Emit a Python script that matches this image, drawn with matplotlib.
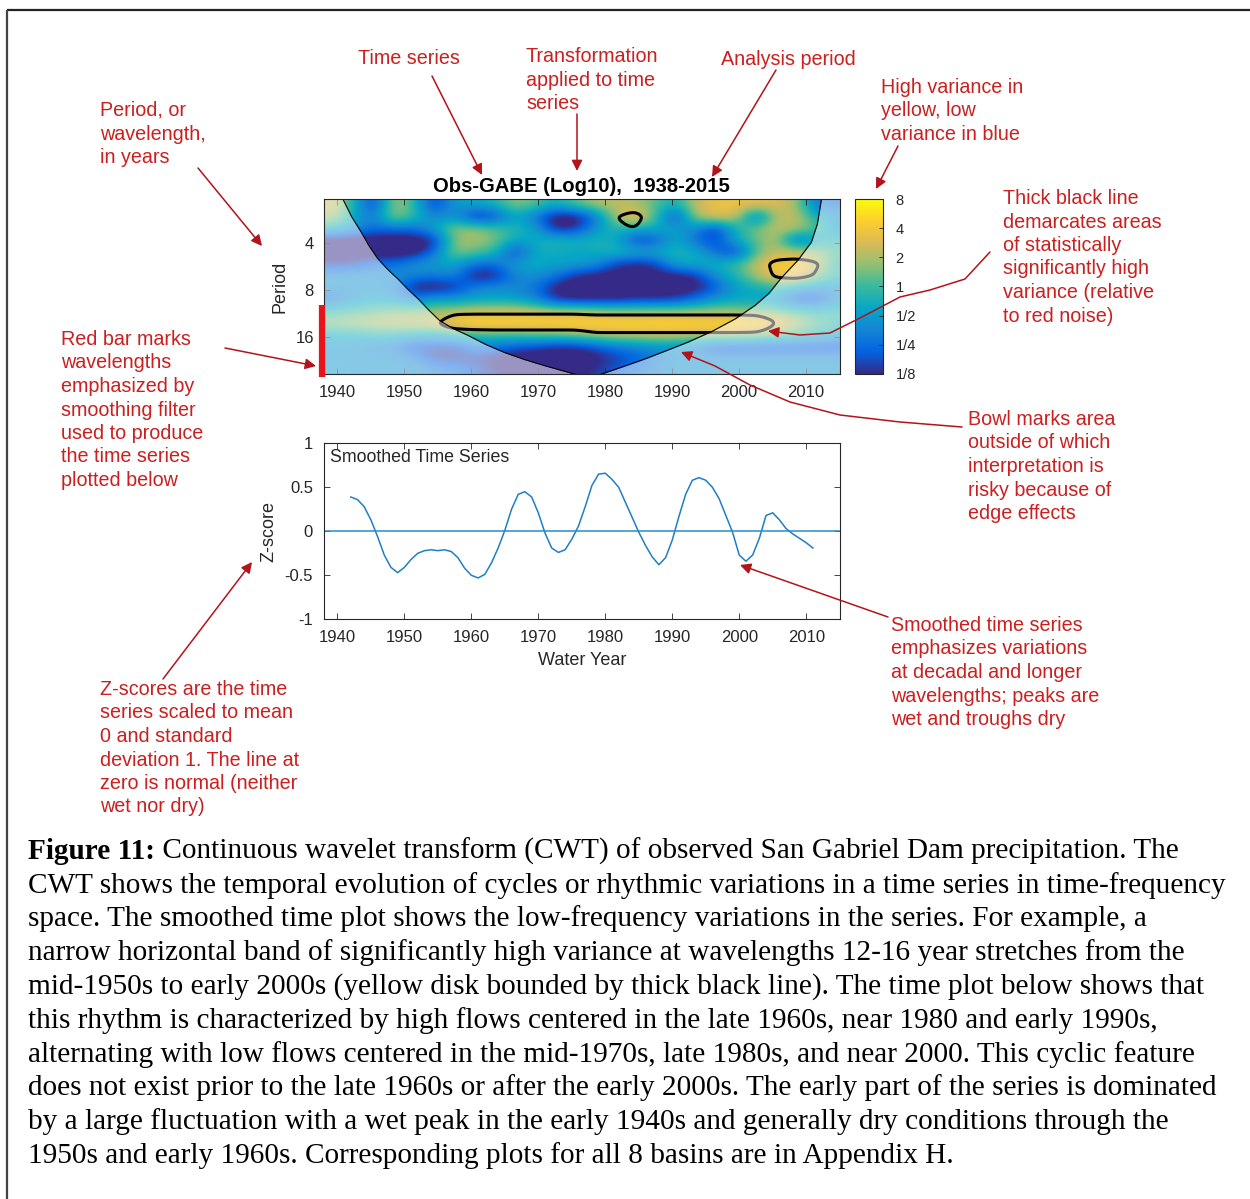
import numpy as np
import matplotlib
matplotlib.use("Agg")
import matplotlib.pyplot as plt
from matplotlib.colors import LinearSegmentedColormap
from matplotlib.patches import FancyArrowPatch
from matplotlib.path import Path

plt.rcParams['font.family'] = ['Liberation Sans', 'DejaVu Sans']
plt.rcParams['axes.unicode_minus'] = False

# ---------------- data ----------------
title = "Obs-GABE (Log10),  1938-2015"
cwt_years = [1939.5, 1942.5, 1945.5, 1948.5, 1951.5, 1954.5, 1957.5, 1960.5, 1963.5,
             1966.5, 1969.5, 1972.5, 1975.5, 1978.5, 1981.5, 1984.5, 1987.5, 1990.5,
             1993.5, 1996.5, 1999.5, 2002.5, 2005.5, 2008.5, 2011.5, 2014.5]
cwt_log2_period = [1.2, 1.45, 1.7, 1.95, 2.2, 2.45, 2.7, 2.95, 3.2, 3.45, 3.7, 3.95, 4.2, 4.45, 4.7]

# log2 of wavelet power (colour scale 1/8 .. 8)
power_log2 = [
 [ 1.5,-0.4,-3.0, 1.2,-0.2,-3.0,-0.8,-0.8,-0.4, 0.8, 0.3,-0.6, 0.3, 1.0, 1.2, 1.0, 0.3,-0.6, 1.3, 1.8, 1.9, 1.8, 1.6, 1.0,-2.0,-2.0],
 [ 1.0,-0.8,-1.8, 1.0,-0.2,-1.5,-1.2,-3.2,-2.8,-0.8,-1.8,-3.5,-3.5,-2.0, 1.0, 2.4, 0.0,-3.0, 1.2, 1.8, 1.5,-2.5, 1.3, 1.2,-0.5,-1.0],
 [-0.3,-1.2,-2.0,-2.0,-2.0,-0.8, 0.8, 0.8, 0.3,-0.2,-0.8,-3.2,-3.0,-1.2,-0.2,-0.6,-0.6,-0.8,-1.5,-3.0,-0.4, 0.6, 1.3, 1.2, 0.3,-1.5],
 [-3.5,-3.5,-3.5,-3.5,-3.5,-3.2, 0.8, 1.0, 0.6,-0.8,-0.6,-0.2,-0.4,-0.4,-0.6,-2.8,-2.5,-0.6,-2.0,-2.8,-0.6, 0.3, 1.2,-2.5,-0.8,-0.3],
 [-3.5,-3.2,-3.5,-3.5,-3.5,-2.0, 0.8, 0.3,-0.2,-3.0,-0.6,-0.6,-0.8,-0.6,-0.2,-0.4,-0.6,-0.2,-0.6,-2.0,-3.0, 0.3, 1.3, 1.5, 1.0, 0.0],
 [-2.8,-2.8,-2.0,-2.0,-1.2,-0.8,-0.8,-2.0,-2.0,-0.8,-0.6,-0.8,-0.8,-1.2,-2.8,-3.3,-2.8,-0.8,-0.6,-0.4, 0.0, 1.3, 2.2, 2.2, 1.2,-0.3],
 [-1.2,-1.2,-1.2,-1.2,-1.5,-1.8,-1.5,-3.3,-3.3,-1.5,-1.2,-1.8,-3.0,-3.3,-3.3,-3.0,-3.3,-3.3,-3.0,-1.2,-0.4, 1.0, 2.0, 2.0, 0.8,-0.3],
 [-1.2,-1.2,-1.2,-1.5,-3.3,-3.5,-3.0,-1.6,-1.2,-1.5,-1.8,-3.3,-3.5,-3.5,-3.5,-3.5,-3.5,-3.5,-3.3,-2.5,-0.8,-0.6, 0.0,-0.8,-1.2,-1.2],
 [-2.2,-1.2,-1.0,-1.0,-1.8,-0.8,-1.0,-0.8,-0.8,-0.8,-1.5,-3.0,-3.3,-3.3,-3.3,-3.0,-3.0,-2.8,-2.0,-1.0,-0.8,-0.8,-1.2,-2.8,-2.8,-1.2],
 [-0.2, 0.0, 0.3, 0.6, 0.6, 0.8, 1.0, 1.4, 1.4, 1.4, 1.3, 1.2, 1.2, 1.0, 0.8, 0.8, 0.8, 0.8, 0.8, 0.8, 0.8, 0.6, 0.4, 0.0,-0.3,-0.3],
 [ 0.8, 1.0, 1.2, 1.3, 1.4, 1.6, 2.4, 2.6, 2.6, 2.6, 2.6, 2.6, 2.6, 2.6, 2.6, 2.6, 2.6, 2.6, 2.5, 2.5, 2.5, 2.4, 2.1, 1.2, 0.3,-0.2],
 [-0.8,-0.8,-0.4,-0.4,-0.6,-0.8,-0.3, 0.0, 0.0, 0.0, 0.3, 0.3, 0.6, 1.0, 1.2, 1.2, 1.3, 1.3, 1.3, 1.3, 1.2, 1.0, 0.6, 0.0,-0.3,-0.8],
 [-1.2,-1.2,-1.5,-1.8,-2.8,-2.8,-2.8,-1.8,-1.8,-2.3,-2.6,-3.0,-3.0,-2.5,-1.8,-1.5,-1.2,-1.2,-1.8,-2.8,-2.8,-2.8,-2.8,-2.8,-2.8,-2.8],
 [-1.2,-1.2,-1.2,-1.2,-1.5,-2.8,-2.8,-2.8,-3.2,-3.5,-3.5,-3.5,-3.5,-3.2,-2.8,-2.3,-1.8,-1.2,-1.2,-1.2,-1.2,-1.2,-1.2,-1.2,-1.2,-1.2],
 [-1.0,-1.2,-1.2,-1.2,-1.2,-1.5,-1.8,-2.3,-2.8,-3.2,-3.5,-3.5,-3.2,-2.8,-2.3,-1.8,-1.5,-1.2,-1.2,-1.2,-1.2,-1.2,-1.2,-1.2,-1.2,-1.2],
]

# power relative to the 95% red-noise level (significant where > 1)
signif_ratio = [
 [0.2]*14 + [0.3, 0.45] + [0.2]*10,
 [0.2]*13 + [0.3, 0.95, 1.45] + [0.2]*10,
 [0.2]*13 + [0.25, 0.75, 1.0] + [0.2]*10,
 [0.2]*26,
 [0.2]*22 + [0.3, 0.35, 0.3, 0.2],
 [0.2]*21 + [0.35, 1.35, 1.5, 1.15, 0.2],
 [0.2]*21 + [0.3, 1.15, 1.25, 0.95, 0.2],
 [0.2]*26,
 [0.2]*26,
 [0.2]*5 + [0.3] + [0.75]*7 + [0.65]*9 + [0.5, 0.2, 0.2, 0.2],
 [0.2]*4 + [0.4, 0.85, 1.6] + [1.7]*14 + [1.6, 1.0, 0.2, 0.2, 0.2],
 [0.2]*5 + [0.3, 0.4, 0.5] + [0.55]*5 + [0.85]*9 + [0.65, 0.2, 0.2, 0.2],
 [0.2]*26,
 [0.2]*26,
 [0.2]*26,
]

# cone of influence (log2 period) read from the bowl
coi_year = [1938.0, 1940.9, 1942.2, 1943.6, 1944.8, 1946.1, 1947.6, 1949.1, 1950.6, 1952.1,
            1953.7, 1955.3, 1957.3, 1959.6, 1962.2, 1965.0, 1968.0, 1971.0, 1975.5, 1977.3,
            1979.4, 1982.5, 1985.9, 1989.0, 1992.4, 1996.0, 1999.4, 2002.4, 2004.5, 2006.3,
            2008.8, 2010.8, 2011.7, 2012.3, 2015.0]
coi_log2 = [0.0, 1.08, 1.45, 1.77, 2.07, 2.34, 2.57, 2.77, 2.99, 3.19,
            3.43, 3.65, 3.82, 3.97, 4.16, 4.33, 4.48, 4.61, 4.79, 4.9,
            4.79, 4.64, 4.47, 4.30, 4.11, 3.88, 3.62, 3.33, 3.07, 2.75,
            2.37, 1.99, 1.6, 1.08, 0.0]

red_bar_log2 = [3.33, 4.85]

period_tick_pos = [2, 3, 4]
period_tick_labels = ['4', '8', '16']
year_ticks = [1940, 1950, 1960, 1970, 1980, 1990, 2000, 2010]
cbar_ticks = [-3, -2, -1, 0, 1, 2, 3]
cbar_labels = ['1/8', '1/4', '1/2', '1', '2', '4', '8']

smooth_years = list(range(1942, 2012))
smooth_z = [0.39, 0.36, 0.28, 0.13, -0.06, -0.27, -0.41, -0.47, -0.41, -0.32,
            -0.25, -0.22, -0.21, -0.22, -0.21, -0.23, -0.30, -0.42, -0.50, -0.53,
            -0.49, -0.36, -0.19, 0.01, 0.25, 0.42, 0.45, 0.39, 0.21, -0.02,
            -0.19, -0.24, -0.21, -0.09, 0.06, 0.28, 0.52, 0.65, 0.66, 0.59,
            0.50, 0.33, 0.16, -0.01, -0.16, -0.29, -0.38, -0.30, -0.10, 0.17,
            0.42, 0.58, 0.61, 0.58, 0.50, 0.37, 0.18, -0.01, -0.27, -0.34,
            -0.27, -0.08, 0.18, 0.21, 0.13, 0.03, -0.03, -0.08, -0.13, -0.19]
z_ticks = [-1, -0.5, 0, 0.5, 1]
z_tick_labels = ['-1', '-0.5', '0', '0.5', '1']

caption_bold = "Figure 11:"
caption_lines = [
    " Continuous wavelet transform (CWT) of observed San Gabriel Dam precipitation. The",
    "CWT shows the temporal evolution of cycles or rhythmic variations in a time series in time-frequency",
    "space. The smoothed time plot shows the low-frequency variations in the series. For example, a",
    "narrow horizontal band of significantly high variance at wavelengths 12-16 year stretches from the",
    "mid-1950s to early 2000s (yellow disk bounded by thick black line). The time plot below shows that",
    "this rhythm is characterized by high flows centered in the late 1960s, near 1980 and early 1990s,",
    "alternating with low flows centered in the mid-1970s, late 1980s, and near 2000. This cyclic feature",
    "does not exist prior to the late 1960s or after the early 2000s. The early part of the series is dominated",
    "by a large fluctuation with a wet peak in the early 1940s and generally dry conditions through the",
    "1950s and early 1960s. Corresponding plots for all 8 basins are in Appendix H.",
]

notes = [
    (100, 109, "Period, or\nwavelength,\nin years"),
    (358, 57, "Time series"),
    (526, 55, "Transformation\napplied to time\nseries"),
    (721, 58, "Analysis period"),
    (881, 86, "High variance in\nyellow, low\nvariance in blue"),
    (1003, 197, "Thick black line\ndemarcates areas\nof statistically\nsignificantly high\nvariance (relative\nto red noise)"),
    (61, 338, "Red bar marks\nwavelengths\nemphasized by\nsmoothing filter\nused to produce\nthe time series\nplotted below"),
    (968, 418, "Bowl marks area\noutside of which\ninterpretation is\nrisky because of\nedge effects"),
    (891, 624, "Smoothed time series\nemphasizes variations\nat decadal and longer\nwavelengths; peaks are\nwet and troughs dry"),
    (100, 688, "Z-scores are the time\nseries scaled to mean\n0 and standard\ndeviation 1. The line at\nzero is normal (neither\nwet nor dry)"),
]

# ---------------- layout helpers ----------------
W, H = 1250, 1199
fig = plt.figure(figsize=(W / 100, H / 100), dpi=100)
fig.patch.set_facecolor('white')

def box(x0, y0, x1, y1):
    return [x0 / W, 1 - y1 / H, (x1 - x0) / W, (y1 - y0) / H]

axc = (0.15, 0.15, 0.15)
red = '#cc1f1f'
dred = '#b3131b'

parula = LinearSegmentedColormap.from_list(
    'parula', ['#352a87', '#0363e1', '#1485d4', '#06a7c6', '#38b99e',
               '#92bf73', '#d9ba56', '#fcce2e', '#f9fb0e'])

# ---------------- wavelet panel ----------------
ax1 = fig.add_axes(box(323.6, 199.3, 839.5, 373.7))
P = np.array(power_log2)
yrs = np.array(cwt_years)
lp = np.array(cwt_log2_period)
im = ax1.imshow(P, cmap=parula, vmin=-3, vmax=3, aspect='auto', interpolation='bicubic',
                extent=(yrs[0] - 1.5, yrs[-1] + 1.5, lp[-1] + 0.125, lp[0] - 0.125),
                origin='upper', zorder=1)

# significance contour: bilinear refinement + light gaussian smoothing
S = np.array(signif_ratio)
xf = np.linspace(yrs[0], yrs[-1], 301)
yf = np.linspace(lp[0], lp[-1], 141)
Sx = np.array([np.interp(xf, yrs, row) for row in S])
Sf = np.array([np.interp(yf, lp, Sx[:, j]) for j in range(len(xf))]).T

def smooth1d(a, sigma, axis):
    r = int(3 * sigma)
    k = np.exp(-0.5 * (np.arange(-r, r + 1) / sigma) ** 2)
    k /= k.sum()
    pad = [(0, 0), (0, 0)]
    pad[axis] = (r, r)
    ap = np.pad(a, pad, mode='edge')
    return np.apply_along_axis(lambda v: np.convolve(v, k, mode='valid'), axis, ap)

Sf = smooth1d(smooth1d(Sf, 2.5, 1), 1.6, 0)
ax1.contour(xf, yf, Sf, levels=[1.0], colors='k', linewidths=2.2, zorder=2)

ax1.fill_between(coi_year, coi_log2, 6, color='white', alpha=0.5, lw=0, zorder=3)
ax1.plot(coi_year, coi_log2, color='k', lw=0.8, zorder=4)
ax1.plot([1937.8, 1937.8], red_bar_log2, color='#e8141c', lw=4.5, solid_capstyle='butt',
         clip_on=False, zorder=6)

ax1.set_xlim(1938, 2015)
ax1.set_ylim(4.78, 1.077)
ax1.set_xticks(year_ticks)
ax1.set_yticks(period_tick_pos)
ax1.set_yticklabels(period_tick_labels)
ax1.tick_params(direction='in', top=True, right=True, length=4, width=0.6, color=axc,
                labelsize=12, labelcolor=axc)
ax1.tick_params(axis='x', pad=8)
ax1.tick_params(axis='y', pad=7)
for s in ax1.spines.values():
    s.set_color(axc); s.set_linewidth(0.8); s.set_zorder(5)
ax1.set_ylabel('Period', fontsize=13, color=axc, labelpad=5)
ax1.set_title(title, fontsize=14.6, fontweight='bold', color='black', pad=5)

cax = fig.add_axes(box(855, 199.3, 883, 373.7))
cb = fig.colorbar(im, cax=cax, ticks=cbar_ticks)
cb.ax.set_yticklabels(cbar_labels)
cb.ax.tick_params(direction='in', length=3, width=0.6, color=axc, labelsize=10.5,
                  labelcolor=axc, pad=9)
cb.outline.set_edgecolor(axc)
cb.outline.set_linewidth(0.8)

# ---------------- smoothed series panel ----------------
ax2 = fig.add_axes(box(324, 443.3, 839.7, 619.3))
ax2.plot(smooth_years, smooth_z, color='#1f7fc4', lw=1.1)
ax2.axhline(0, color='#2a8ccc', lw=1.1)
ax2.set_xlim(1938, 2015)
ax2.set_ylim(-1, 1)
ax2.set_xticks(year_ticks)
ax2.set_yticks(z_ticks)
ax2.set_yticklabels(z_tick_labels)
ax2.tick_params(direction='in', top=True, right=True, length=4, width=0.6, color=axc,
                labelsize=12, labelcolor=axc)
ax2.tick_params(axis='x', pad=8)
ax2.tick_params(axis='y', pad=8)
for s in ax2.spines.values():
    s.set_color(axc); s.set_linewidth(0.8)
ax2.set_xlabel('Water Year', fontsize=13, color=axc, labelpad=5)
ax2.set_ylabel('Z-score', fontsize=13, color=axc, labelpad=5)
ax2.text(0.012, 0.922, 'Smoothed Time Series', transform=ax2.transAxes, fontsize=12.8,
         color=axc, va='center', ha='left')

# ---------------- annotation overlay ----------------
ov = fig.add_axes([0, 0, 1, 1], zorder=10)
ov.set_xlim(0, W)
ov.set_ylim(H, 0)
ov.axis('off')
ov.patch.set_alpha(0)

ov.plot([7, W], [10, 10], color='#222222', lw=1.6, solid_capstyle='butt')
ov.plot([7, 7], [10, H], color='#444444', lw=1.6, solid_capstyle='butt')

for x, y, t in notes:
    ov.text(x, y - 8, t, color=red, fontsize=14.2, ha='left', va='top', linespacing=1.3)

straight = [((198, 168), (262, 246)), ((432, 76), (482, 175)), ((577, 114), (577, 171)),
            ((776, 70), (712, 177)), ((898, 146), (876, 189)), ((225, 348), (316, 366)),
            ((888, 617), (740, 565)), ((163, 679), (252, 562))]
for (a, b) in straight:
    ov.add_patch(FancyArrowPatch(a, b, arrowstyle='-|>', mutation_scale=16, color=dred,
                                 lw=1.1, shrinkA=0, shrinkB=0))
curvy = [
    [(990, 252), (965, 279), (930, 290), (900, 297), (860, 318), (830, 333), (800, 335), (768, 331)],
    [(962, 427), (900, 422), (840, 415), (790, 402), (750, 385), (715, 366), (681, 352)],
]
for pts in curvy:
    path = Path(pts, [Path.MOVETO] + [Path.LINETO] * (len(pts) - 1))
    ov.add_patch(FancyArrowPatch(path=path, arrowstyle='-|>', mutation_scale=16, color=dred,
                                 lw=1.1, shrinkA=0, shrinkB=0))

# ---------------- caption ----------------
renderer = fig.canvas.get_renderer()
probe = ov.text(0, 0, caption_lines[1], family='Liberation Serif', fontsize=20)
wprobe = probe.get_window_extent(renderer).width
probe.remove()
cap_fs = 20 * 1198.0 / wprobe
base0 = 858.8
step = 33.8
tb = ov.text(28, base0, caption_bold, family='Liberation Serif', fontsize=cap_fs,
             fontweight='bold', va='baseline', ha='left')
bx = tb.get_window_extent(renderer).x1
ov.text(bx, base0, caption_lines[0], family='Liberation Serif', fontsize=cap_fs,
        va='baseline', ha='left')
for i, line in enumerate(caption_lines[1:], start=1):
    ov.text(28, base0 + step * i, line, family='Liberation Serif', fontsize=cap_fs,
            va='baseline', ha='left')

fig.savefig('out.png', dpi=100, facecolor='white')
